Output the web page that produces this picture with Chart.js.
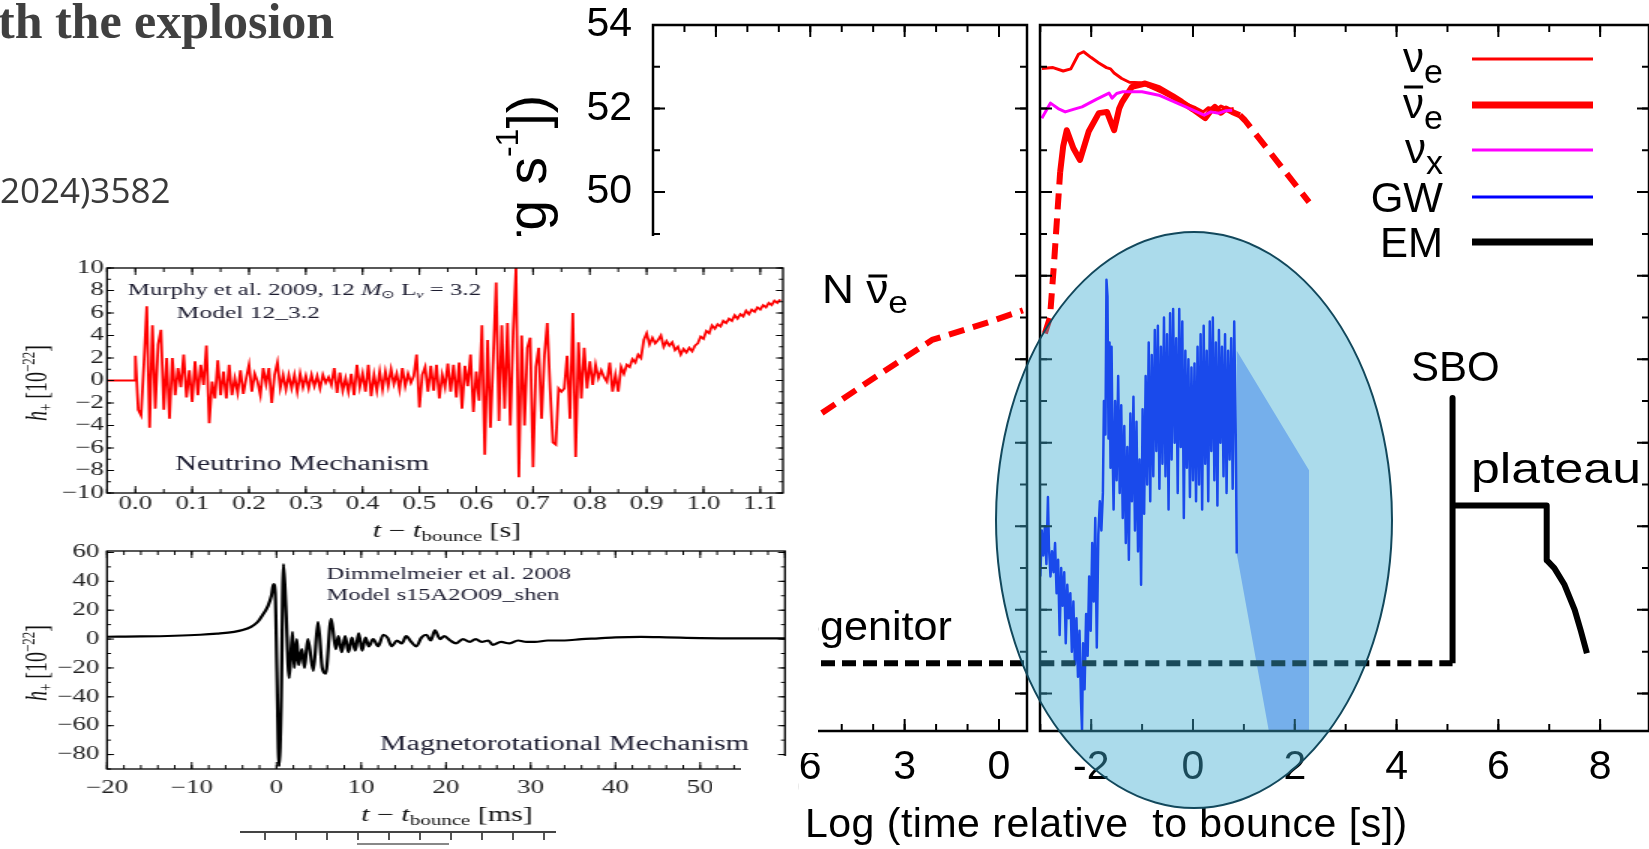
<!DOCTYPE html>
<html>
<head>
<meta charset="utf-8">
<script src="https://cdn.jsdelivr.net/npm/chart.js@4.4.1/dist/chart.umd.min.js"></script>
<style>
  html, body { margin: 0; padding: 0; background: #fff; overflow: hidden; width: 1649px; height: 849px; }
  .abs { position: absolute; }
  canvas { position: absolute; display: block; }
  #headline { left: -2px; top: -4px; font: bold 50px/50px "Liberation Serif"; color: #404040; white-space: nowrap; }
  #ref { left: 0; top: 172px; font: 35px/35px "Open Sans"; color: #3a3a3a; white-space: nowrap; }
  #xtitle { left: 805px; top: 803px; font: 41px/41px "Liberation Sans"; letter-spacing: 0.5px; white-space: pre; color: #000; }
  .cover { background: #fff; }
  .inset { transform-origin: 0 0; transform: scaleX(1.5); }
  #lens { left: 995px; top: 231px; width: 398px; height: 578px; border-radius: 50%; box-sizing: border-box;
          border: 2.5px solid #12485c; background: rgba(60, 172, 209, 0.43); }
  #stub { left: 240px; top: 831px; width: 316px; height: 7px; border-top: 2px solid #444;
          background: repeating-linear-gradient(to right, transparent 0 24px, #555 24px 26px, transparent 26px 31px); }
  #stub2 { left: 357px; top: 843px; width: 92px; height: 0; border-top: 2px solid #888; }
</style>
</head>
<body>
<canvas id="lumLeft" width="1034" height="849" style="left:0;top:0"></canvas>
<canvas id="lumRight" width="615" height="849" style="left:1034px;top:0"></canvas>
<div id="headline" class="abs">th the explosion</div>
<div id="ref" class="abs">2024)3582</div>
<div id="xtitle" class="abs">Log (time relative  to bounce [s])</div>

<div class="abs cover" style="left:0;top:236px;width:818px;height:304px"></div>
<div class="abs cover" style="left:0;top:540px;width:818px;height:213px"></div>
<div class="abs cover" style="left:0;top:753px;width:741px;height:96px"></div>
<canvas id="gwNeutrino" class="inset" width="545" height="312" style="left:0;top:236px"></canvas>
<canvas id="gwMagneto" class="inset" width="533" height="309" style="left:0;top:540px"></canvas>
<div class="abs cover" style="left:741px;top:756px;width:57px;height:93px"></div>
<div class="abs cover" style="left:712px;top:783px;width:30px;height:66px"></div>
<div id="stub" class="abs"></div>
<div id="stub2" class="abs"></div>

<div id="lens" class="abs"></div>

<script>
// ---- luminosity panels: [log10 time, log10 L] ----
// left panel: time before bounce (axis runs backwards)
const nNuebarPre = [[5.63, 44.71], [3.94, 45.57], [2.13, 46.46], [0.32, 46.89], [-0.76, 47.17]];
const emPre = [[11.0, 38.72], [-0.89, 38.72]];

// right panel: time after bounce
const nueCurve = [[-2.97, 52.96], [-2.75, 52.98], [-2.55, 52.90], [-2.40, 52.95], [-2.25, 53.30], [-2.15, 53.36],
  [-2.00, 53.22], [-1.85, 53.09], [-1.70, 52.98], [-1.62, 52.95], [-1.55, 52.85], [-1.40, 52.72], [-1.25, 52.63],
  [-1.05, 52.62], [-0.85, 52.52], [-0.60, 52.38], [-0.35, 52.22], [-0.15, 52.12], [0.05, 52.02], [0.20, 51.92],
  [0.30, 52.02], [0.45, 51.98], [0.55, 52.06], [0.70, 51.98], [0.80, 52.00]];
const nuebarCurve = [[-2.61, 50.48], [-2.55, 51.10], [-2.48, 51.48], [-2.35, 51.05], [-2.22, 50.77], [-2.05, 51.45],
  [-1.85, 51.89], [-1.69, 51.92], [-1.62, 51.70], [-1.55, 51.48], [-1.45, 52.00], [-1.39, 52.16], [-1.20, 52.52],
  [-0.94, 52.60], [-0.67, 52.49], [-0.40, 52.30], [-0.22, 52.16], [0.00, 51.98], [0.24, 51.77], [0.35, 51.95],
  [0.43, 52.04], [0.55, 51.90], [0.65, 52.00], [0.77, 51.92], [0.92, 51.84]];
const nuebarRise = [[-2.91, 46.62], [-2.81, 47.00], [-2.73, 48.30], [-2.67, 49.40], [-2.61, 50.48]];
const nuebarTail = [[0.92, 51.84], [1.02, 51.72], [2.28, 49.76]];
const nuxCurve = [[-2.97, 51.77], [-2.80, 52.13], [-2.65, 52.00], [-2.51, 51.92], [-2.35, 51.98], [-2.18, 52.04],
  [-1.90, 52.22], [-1.65, 52.37], [-1.59, 52.25], [-1.50, 52.36], [-1.39, 52.40], [-1.00, 52.40], [-0.67, 52.32],
  [-0.22, 52.08], [0.22, 51.84], [0.35, 51.92], [0.51, 51.89], [0.65, 51.95], [0.77, 51.96]];
const gwTrace = [
  [-3.00, 40.8], [-2.97, 41.9], [-2.94, 41.3], [-2.91, 42.0], [-2.88, 41.1], [-2.85, 42.7], [-2.83, 41.5], [-2.80, 40.8],
  [-2.77, 41.4], [-2.74, 40.9], [-2.71, 41.6], [-2.68, 40.4], [-2.65, 41.2], [-2.62, 39.4], [-2.59, 41.0], [-2.56, 40.1],
  [-2.53, 40.9], [-2.50, 39.2], [-2.47, 40.6], [-2.44, 39.8], [-2.41, 40.4], [-2.38, 39.0], [-2.35, 40.2], [-2.32, 38.7],
  [-2.29, 39.8], [-2.26, 38.4], [-2.23, 39.5], [-2.20, 37.8], [-2.18, 37.1], [-2.16, 39.2], [-2.13, 38.1], [-2.10, 39.9],
  [-2.07, 38.9], [-2.04, 40.8], [-2.01, 39.5], [-1.98, 41.6], [-1.95, 40.2], [-1.92, 42.2], [-1.89, 39.1], [-1.86, 41.8],
  [-1.83, 42.6], [-1.80, 41.9], [-1.77, 42.8], [-1.75, 45.0], [-1.72, 44.2], [-1.70, 47.9], [-1.68, 47.5], [-1.66, 44.1],
  [-1.64, 46.4], [-1.62, 43.4], [-1.60, 46.3], [-1.58, 43.9], [-1.56, 42.4], [-1.53, 45.0], [-1.50, 43.1], [-1.47, 45.6],
  [-1.44, 42.8], [-1.41, 44.9], [-1.38, 42.2], [-1.35, 44.4], [-1.32, 41.6], [-1.29, 43.9], [-1.26, 41.2], [-1.23, 44.7],
  [-1.20, 42.6], [-1.17, 45.1], [-1.14, 41.9], [-1.11, 44.5], [-1.08, 41.4], [-1.05, 43.6], [-1.02, 40.6], [-0.99, 44.8],
  [-0.96, 42.3], [-0.93, 45.6], [-0.90, 43.0], [-0.87, 46.4], [-0.84, 42.6], [-0.81, 46.1], [-0.78, 43.2], [-0.75, 46.7],
  [-0.72, 43.8], [-0.69, 46.8], [-0.66, 42.9], [-0.63, 46.3], [-0.60, 43.5], [-0.57, 47.0], [-0.54, 43.2], [-0.51, 46.6],
  [-0.48, 42.4], [-0.45, 47.1], [-0.42, 43.6], [-0.39, 47.2], [-0.36, 44.0], [-0.33, 46.5], [-0.30, 42.8], [-0.27, 47.2],
  [-0.24, 43.9], [-0.21, 46.9], [-0.18, 42.2], [-0.15, 46.2], [-0.12, 43.4], [-0.09, 46.0], [-0.06, 42.7], [-0.03, 45.8],
  [0.00, 43.1], [0.03, 45.9], [0.06, 42.6], [0.09, 46.3], [0.12, 43.0], [0.15, 46.6], [0.18, 42.4], [0.21, 46.8],
  [0.24, 43.5], [0.27, 46.2], [0.30, 42.6], [0.33, 46.9], [0.36, 43.8], [0.39, 47.0], [0.42, 43.1], [0.45, 46.4],
  [0.48, 42.5], [0.51, 46.7], [0.54, 44.0], [0.57, 46.3], [0.60, 43.2], [0.63, 46.6], [0.66, 42.8], [0.69, 46.2],
  [0.72, 43.6], [0.75, 46.5], [0.78, 42.9], [0.81, 46.9], [0.84, 44.2], [0.86, 41.35]];
const gwShade = [[0.86, 46.2], [2.28, 43.34], [2.28, 37.1], [1.49, 37.1], [0.86, 41.35]];
const emPost = [[-3.0, 38.72], [5.10, 38.72]];
const emLight = [[5.10, 38.72], [5.10, 45.07], [5.10, 42.5], [6.95, 42.5], [6.95, 41.19], [7.10, 41.0],
  [7.30, 40.6], [7.50, 40.0], [7.62, 39.5], [7.74, 38.96]];

// ---- GW strain insets ----
// Murphy et al. 2009: h+ [1e-22], flat before bounce, then sampled every 5 ms
const murphyStart = [[-0.05, 0], [0.0, 0]];
const murphyStep = 0.005;
const murphyH = [
  2.2, -2.6, -3.1, 1.5, 6.6, -4.2, 4.9, -2.5, 3.2, 4.5,
  -2.6, 2.0, -3.4, 2.0, -1.3, 1.1, -0.6, 2.3, -1.5, 0.9,
  -1.9, 1.7, -1.3, 1.4, -0.4, 3.1, -3.8, -0.1, -1.6, 1.8,
  -1.3, 0.8, -1.6, 1.4, -1.3, 0.2, -1.1, 0.9, -1.2, 0.2,
  1.4, -1.0, 0.6, -0.1, -1.3, 1.1, -0.3, 1.1, -2.0, 0.5,
  1.6, -0.7, 0.5, -0.8, 0.5, -0.7, 0.5, -1.0, 0.6, -0.6,
  0.4, -0.7, 0.5, -0.5, 0.4, -0.7, 0.5, -0.2, 0.3, -0.4,
  1.1, -1.1, 0.7, -0.9, 0.2, -1.0, 0.6, -1.3, 1.4, -0.6,
  0.6, -1.0, 1.4, -1.4, 0.5, -0.9, 0.8, -0.8, 0.8, -0.5,
  1.0, -0.3, 0.6, -0.8, 1.1, -0.5, 0.6, -0.2, 0.4, 2.3,
  -2.4, 0.5, 1.2, -1.0, 1.3, -0.9, 1.4, -1.6, 0.5, -0.6,
  1.5, -1.0, 1.4, -1.5, 1.6, -2.5, 1.3, -0.5, 2.3, -2.8,
  0.8, -1.8, 4.9, -6.6, 3.6, -4.2, 2.0, 8.7, -3.6, 4.9,
  -2.5, 5.1, -4.0, 4.3, 10.0, -8.6, 4.0, -4.0, 2.9, 3.8,
  -7.7, 1.2, 2.9, -3.4, 2.2, 5.1, -0.7, -5.5, -5.7, -0.7,
  -1.0, -0.7, 2.2, -3.4, 6.0, -6.8, 3.4, -1.6, 2.9, -0.7,
  1.7, -0.4, 1.4, 0.2, 0.9, 0.3, -0.1, 1.6, -1.0, 0.5,
  -1.0, 1.2, 0.6, 1.4, 1.2, 1.9, 1.6, 2.3, 2.0, 3.6,
  4.2, 3.2, 3.8, 3.3, 3.6, 4.0, 3.0, 3.5, 3.1, 3.4,
  2.7, 3.0, 2.3, 2.8, 2.5, 2.9, 2.6, 3.1, 3.3, 3.9,
  3.7, 4.4, 4.2, 4.9, 4.6, 5.0, 4.8, 5.3, 5.1, 5.5,
  5.3, 5.8, 5.5, 5.9, 5.7, 6.2, 5.9, 6.3, 6.1, 6.5,
  6.3, 6.7, 6.5, 6.9, 6.7, 7.1, 6.9, 7.2];

// Dimmelmeier et al. 2008: [t - t_bounce in ms, h+ in 1e-22]
const dimmelmeier = [[-20, 1.6], [-16, 1.8], [-12, 2.3], [-9, 3.0], [-7, 3.8], [-5, 5.0], [-4, 6.2], [-3, 8.5],
  [-2.2, 12], [-1.6, 17], [-1.0, 23], [-0.6, 30], [-0.35, 38], [-0.15, 32], [0.05, -23], [0.3, -88], [0.55, -46],
  [0.82, 52], [1.1, 23], [1.5, -27], [1.88, 5], [2.1, -20], [2.4, 0], [2.6, -18], [3.0, -7], [3.3, -20], [3.7, 0],
  [4.35, -22], [4.9, 12], [5.4, -20], [5.8, -24], [6.45, 14], [7.0, -7], [7.3, 2], [7.7, -9], [8.1, 2], [8.5, -9],
  [8.9, 1], [9.3, -8], [9.7, 4], [10.1, -8], [10.5, 1], [10.9, -5], [11.4, 0], [12.0, -5], [12.6, 3], [13.1, 1],
  [13.6, -5], [14.2, -1], [14.8, -3], [15.3, 2], [15.9, -2], [16.5, -5], [17.1, 1], [17.7, 3], [18.2, -1], [18.7, 6],
  [19.3, 0], [19.8, 2], [20.5, -1], [21.2, -3], [22.0, 0], [22.8, -2], [23.5, 0], [24.2, -2], [25.0, -1], [25.5, -4],
  [26.5, -2], [27.5, -3], [28.5, -1], [29.5, -2], [30.5, -2], [32, -1], [34, -1], [36, 0], [38, 0.5], [40, 1.2],
  [43, 1.5], [46, 1.2], [50, 0.7], [55, 0.5], [60, 0.5]];

const xy = arr => arr.map(([x, y]) => ({x, y}));
const murphySeries = xy(murphyStart).concat(murphyH.map((h, i) => ({x: i * murphyStep, y: h})));
const minus = v => String(v).replace('-', '\u2212');

const SANS = '"Liberation Sans"';
const SERIF = '"Liberation Serif"';

// mixed-font text: runs of [text, font, baseline shift]
function drawRuns(ctx, x, y, runs, align) {
  ctx.textAlign = 'left';
  ctx.textBaseline = 'alphabetic';
  const widths = runs.map(r => { ctx.font = r[1]; return ctx.measureText(r[0]).width; });
  const total = widths.reduce((a, b) => a + b, 0);
  let cx = align === 'right' ? x - total : align === 'center' ? x - total / 2 : x;
  const starts = [];
  runs.forEach((r, i) => {
    ctx.font = r[1];
    starts.push(cx);
    ctx.fillText(r[0], cx, y + (r[2] || 0));
    cx += widths[i];
  });
  return {starts, widths, total};
}

// same, squeezed or widened to a given width
function drawRunsWide(ctx, x, y, runs, width) {
  ctx.save();
  const widths = runs.map(r => { ctx.font = r[1]; return ctx.measureText(r[0]).width; });
  const total = widths.reduce((a, b) => a + b, 0);
  ctx.translate(x, y);
  ctx.scale(width / total, 1);
  const out = drawRuns(ctx, 0, 0, runs);
  ctx.restore();
  return {k: width / total, starts: out.starts, widths: out.widths};
}

// box frame with inward ticks on all four sides
const frameTicks = {
  id: 'frameTicks',
  afterDatasetsDraw(chart, args, o) {
    const {ctx, chartArea: a, scales: {x, y}} = chart;
    const sx = o.stretch || 1;
    ctx.save();
    ctx.strokeStyle = '#000';
    ctx.lineWidth = o.tickWidth;
    const run = (scale, step, len, horiz) => {
      const lo = Math.min(scale.min, scale.max), hi = Math.max(scale.min, scale.max);
      for (let k = Math.ceil(lo / step - 1e-6); k * step <= hi + 1e-6; k++) {
        const p = scale.getPixelForValue(k * step);
        ctx.beginPath();
        if (horiz) {
          ctx.moveTo(p, a.top); ctx.lineTo(p, a.top + len);
          ctx.moveTo(p, a.bottom); ctx.lineTo(p, a.bottom - len);
        } else {
          ctx.moveTo(a.left, p); ctx.lineTo(a.left + len / sx, p);
          ctx.moveTo(a.right, p); ctx.lineTo(a.right - len / sx, p);
        }
        ctx.stroke();
      }
    };
    run(x, o.xMinor, o.minorLen, true);
    run(x, o.xMajor, o.majorLen, true);
    run(y, o.yMinor, o.minorLen, false);
    run(y, o.yMajor, o.majorLen, false);
    ctx.lineWidth = o.frameWidth;
    ctx.strokeRect(a.left, a.top, a.right - a.left, a.bottom - a.top);
    ctx.restore();
  }
};

const quiet = {legend: {display: false}, tooltip: {enabled: false}};
const noGrid = {display: false, drawTicks: false};
// fixed axis sizes, and no extra room reserved for the end labels
const fixWidth = w => s => { s.width = w; s.paddingTop = 0; s.paddingBottom = 0; };
const fixHeight = h => s => { s.height = h; s.paddingLeft = 0; s.paddingRight = 0; };

function line(data, color, width, dash) {
  return {data: xy(data), borderColor: color, borderWidth: width, borderDash: dash || [],
          pointRadius: 0, tension: 0, fill: false, borderCapStyle: 'butt', borderJoinStyle: 'round'};
}

// ---- left luminosity panel ----
const leftNotes = {
  id: 'leftNotes',
  afterDraw(chart) {
    const ctx = chart.ctx;
    ctx.save();
    ctx.fillStyle = '#000';
    ctx.translate(546, 95);
    ctx.rotate(-Math.PI / 2);
    drawRuns(ctx, 0, 0, [['Log (Luminosity [erg s', '55px ' + SANS], ['-1', '32px ' + SANS, -28], ['])', '55px ' + SANS]], 'right');
    ctx.restore();

    ctx.save();
    ctx.fillStyle = '#000';
    const n = drawRunsWide(ctx, 822, 303, [['N ', '40px ' + SANS], ['\u03bd', '40px ' + SANS], ['e', '32px ' + SANS, 10]], 86);
    ctx.strokeStyle = '#000';
    ctx.lineWidth = 3;
    ctx.beginPath();
    ctx.moveTo(822 + (n.starts[1] + 2) * n.k, 276); ctx.lineTo(822 + (n.starts[1] + n.widths[1] - 1) * n.k, 276);
    ctx.stroke();
    ctx.font = '40px ' + SANS;
    const pre = ctx.measureText('pro').width, whole = ctx.measureText('progenitor').width;
    const k = 132 / (whole - pre);
    drawRunsWide(ctx, 820 - pre * k, 640, [['progenitor', '40px ' + SANS]], whole * k);
    ctx.restore();
  }
};

new Chart(document.getElementById('lumLeft'), {
  type: 'line',
  data: {datasets: [
    line(nNuebarPre, '#ff0000', 6, [16, 9]),
    line(emPre, '#000000', 6, [14, 7])
  ]},
  options: {
    responsive: false, animation: false, devicePixelRatio: 1,
    layout: {padding: {left: 0, right: 7, top: 25, bottom: 0}},
    plugins: Object.assign({}, quiet, {
      frameTicks: {xMinor: 1, xMajor: 3, yMinor: 1, yMajor: 2, minorLen: 7, majorLen: 12, tickWidth: 2, frameWidth: 2.5}
    }),
    scales: {
      x: {type: 'linear', reverse: true, min: -0.89, max: 11.0, grid: noGrid, border: {display: false},
          afterFit: fixHeight(118),
          ticks: {stepSize: 3, includeBounds: false, autoSkip: false, maxRotation: 0, padding: 12, color: '#000',
                  font: {family: 'Liberation Sans', size: 41}}},
      y: {min: 37.1, max: 54, grid: noGrid, border: {display: false},
          afterFit: fixWidth(653),
          ticks: {stepSize: 2, includeBounds: false, autoSkip: false, padding: 21, color: '#000',
                  font: {family: 'Liberation Sans', size: 41}}}
    }
  },
  plugins: [frameTicks, leftNotes]
});

// ---- right luminosity panel ----
const legendRows = [
  {y: 59, sub: 'e', bar: false, color: '#ff0000', width: 3},
  {y: 105, sub: 'e', bar: true, color: '#ff0000', width: 7},
  {y: 150, sub: 'x', bar: false, color: '#ff00ff', width: 3},
  {y: 197, text: 'GW', color: '#0000ff', width: 3},
  {y: 242, text: 'EM', color: '#000000', width: 7}
];

const rightNotes = {
  id: 'rightNotes',
  afterDraw(chart) {
    const ctx = chart.ctx;
    ctx.save();
    ctx.fillStyle = '#000';
    legendRows.forEach(r => {
      if (r.text) {
        drawRuns(ctx, 409, r.y + 15, [[r.text, '42px ' + SANS]], 'right');
      } else {
        const t = drawRuns(ctx, 409, r.y + 13, [['\u03bd', '42px ' + SANS], [r.sub, '34px ' + SANS, 11]], 'right');
        if (r.bar) {
          ctx.strokeStyle = '#000'; ctx.lineWidth = 3;
          ctx.beginPath();
          ctx.moveTo(t.starts[0] + 1, r.y - 18); ctx.lineTo(t.starts[0] + t.widths[0] - 1, r.y - 18);
          ctx.stroke();
        }
      }
      ctx.strokeStyle = r.color; ctx.lineWidth = r.width;
      ctx.beginPath(); ctx.moveTo(438, r.y); ctx.lineTo(559, r.y); ctx.stroke();
    });
    drawRuns(ctx, 377, 381, [['SBO', '42px ' + SANS]]);
    drawRunsWide(ctx, 437, 483, [['plateau', '42px ' + SANS]], 170);
    ctx.restore();
  }
};

const shade = line(gwShade, 'rgba(0,0,0,0)', 0);
shade.fill = 'shape';
shade.backgroundColor = 'rgb(160,178,255)';

new Chart(document.getElementById('lumRight'), {
  type: 'line',
  data: {datasets: [
    line(emLight, '#000000', 6),
    line(emPost, '#000000', 6, [14, 7]),
    line(nuxCurve, '#ff00ff', 3),
    line(nuebarCurve, '#ff0000', 6),
    line(nuebarRise, '#ff0000', 6, [16, 9]),
    line(nuebarTail, '#ff0000', 6, [16, 9]),
    line(nueCurve, '#ff0000', 3),
    line(gwTrace, '#0000ff', 2.5),
    shade
  ]},
  options: {
    responsive: false, animation: false, devicePixelRatio: 1,
    layout: {padding: {left: 6, right: 0, top: 25, bottom: 0}},
    plugins: Object.assign({}, quiet, {
      frameTicks: {xMinor: 1, xMajor: 2, yMinor: 1, yMajor: 2, minorLen: 7, majorLen: 12, tickWidth: 2, frameWidth: 2.5}
    }),
    scales: {
      x: {type: 'linear', min: -3.006, max: 8.96, grid: noGrid, border: {display: false},
          afterFit: fixHeight(118),
          ticks: {stepSize: 2, includeBounds: false, autoSkip: false, maxRotation: 0, padding: 12, color: '#000',
                  font: {family: 'Liberation Sans', size: 41}}},
      y: {display: false, min: 37.1, max: 54}
    }
  },
  plugins: [frameTicks, rightNotes]
});

// ---- inset axis titles ----
function strainTitles(ctx, yMid, xMid, xBase, unit) {
  ctx.save();
  ctx.fillStyle = '#111';
  ctx.translate(30.7, yMid);
  ctx.rotate(-Math.PI / 2);
  drawRuns(ctx, 0, 0, [['h', 'italic 20px ' + SERIF], ['+', '13px ' + SERIF, 4], [' [10', '20px ' + SERIF],
    ['\u221222', '13px ' + SERIF, -8], [']', '20px ' + SERIF]], 'center');
  ctx.restore();
  ctx.save();
  ctx.fillStyle = '#111';
  drawRuns(ctx, xMid, xBase, [['t', 'italic 20px ' + SERIF], [' \u2212 ', '20px ' + SERIF], ['t', 'italic 20px ' + SERIF],
    ['bounce', '14px ' + SERIF, 4], [' [' + unit + ']', '20px ' + SERIF]], 'center');
  ctx.restore();
}

// ---- inset: neutrino-driven explosion ----
const neutrinoNotes = {
  id: 'neutrinoNotes',
  afterDraw(chart) {
    const ctx = chart.ctx;
    ctx.save();
    ctx.fillStyle = '#1c1c30';
    drawRuns(ctx, 85.3, 59, [['Murphy et al. 2009, 12 ', '16.5px ' + SERIF], ['M', 'italic 16.5px ' + SERIF],
      ['\u2299', '11px ' + SERIF, 3], [' L', '16.5px ' + SERIF], ['\u03bd', 'italic 11px ' + SERIF, 3],
      [' = 3.2', '16.5px ' + SERIF]]);
    drawRuns(ctx, 117.8, 82, [['Model 12_3.2', '17px ' + SERIF]]);
    drawRuns(ctx, 116.7, 234, [['Neutrino Mechanism', '20px ' + SERIF]]);
    ctx.restore();
    strainTitles(ctx, 147, 298, 301, 's');
  }
};

new Chart(document.getElementById('gwNeutrino'), {
  type: 'line',
  data: {datasets: [{data: murphySeries, borderColor: '#ff0000', borderWidth: 1.8, pointRadius: 0, tension: 0, fill: false}]},
  options: {
    responsive: false, animation: false, devicePixelRatio: 1,
    layout: {padding: {left: 0, right: 23, top: 32, bottom: 0}},
    plugins: Object.assign({}, quiet, {
      frameTicks: {xMinor: 0.05, xMajor: 0.1, yMinor: 1, yMajor: 2, minorLen: 4, majorLen: 7, stretch: 1.5, tickWidth: 1, frameWidth: 1.3}
    }),
    scales: {
      x: {type: 'linear', min: -0.05, max: 1.14, grid: noGrid, border: {display: false},
          afterFit: fixHeight(55),
          ticks: {stepSize: 0.1, includeBounds: false, autoSkip: false, maxRotation: 0, padding: 0, color: '#222',
                  font: {family: 'Liberation Serif', size: 18}, callback: v => v.toFixed(1)}},
      y: {min: -10, max: 10, grid: noGrid, border: {display: false},
          afterFit: fixWidth(71.33),
          ticks: {stepSize: 2, autoSkip: false, padding: 2, color: '#222', font: {family: 'Liberation Serif', size: 18}, callback: minus}}
    }
  },
  plugins: [frameTicks, neutrinoNotes]
});

// ---- inset: magnetorotational explosion ----
const magnetoNotes = {
  id: 'magnetoNotes',
  afterDraw(chart) {
    const ctx = chart.ctx;
    ctx.save();
    ctx.fillStyle = '#1c1c30';
    drawRuns(ctx, 217.8, 39, [['Dimmelmeier et al. 2008', '16.3px ' + SERIF]]);
    drawRuns(ctx, 217.8, 60, [['Model s15A2O09_shen', '16.3px ' + SERIF]]);
    drawRuns(ctx, 253.3, 210, [['Magnetorotational Mechanism', '20px ' + SERIF]]);
    ctx.restore();
    strainTitles(ctx, 123, 298, 281, 'ms');
  }
};

new Chart(document.getElementById('gwMagneto'), {
  type: 'line',
  data: {datasets: [{data: xy(dimmelmeier), borderColor: '#000000', borderWidth: 2.2, pointRadius: 0,
                     cubicInterpolationMode: 'monotone', fill: false}]},
  options: {
    responsive: false, animation: false, devicePixelRatio: 1,
    layout: {padding: {left: 0, right: 9.7, top: 11, bottom: 0}},
    plugins: Object.assign({}, quiet, {
      frameTicks: {xMinor: 2, xMajor: 10, yMinor: 10, yMajor: 20, minorLen: 4, majorLen: 7, stretch: 1.5, tickWidth: 1, frameWidth: 1.3}
    }),
    scales: {
      x: {type: 'linear', min: -20, max: 60, grid: noGrid, border: {display: false},
          afterFit: fixHeight(80),
          ticks: {stepSize: 10, autoSkip: false, maxRotation: 0, padding: 8, color: '#222',
                  font: {family: 'Liberation Serif', size: 18}, callback: minus}},
      y: {min: -90, max: 61, grid: noGrid, border: {display: false},
          afterFit: fixWidth(71.33),
          ticks: {stepSize: 20, includeBounds: false, autoSkip: false, padding: 5, color: '#222',
                  font: {family: 'Liberation Serif', size: 18}, callback: minus}}
    }
  },
  plugins: [frameTicks, magnetoNotes]
});
</script>
</body>
</html>
